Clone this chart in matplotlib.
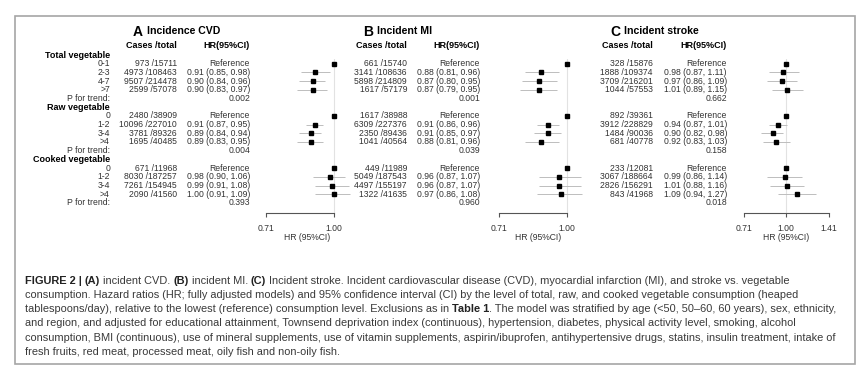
import matplotlib
matplotlib.use("Agg")
import matplotlib.pyplot as plt
import numpy as np
from matplotlib.patches import Rectangle

plt.rcParams['font.family'] = ['Liberation Sans', 'DejaVu Sans']

# ---------------- data ----------------
groups = ["Total vegetable", "Raw vegetable", "Cooked vegetable"]
levels = [["0-1", "2-3", "4-7", ">7"],
          ["0", "1-2", "3-4", ">4"],
          ["0", "1-2", "3-4", ">4"]]

cvd_cases = [["973 /15711", "4973 /108463", "9507 /214478", "2599 /57078"],
             ["2480 /38909", "10096 /227010", "3781 /89326", "1695 /40485"],
             ["671 /11968", "8030 /187257", "7261 /154945", "2090 /41560"]]
cvd_hr = [[1.00, 0.91, 0.90, 0.90], [1.00, 0.91, 0.89, 0.89], [1.00, 0.98, 0.99, 1.00]]
cvd_lo = [[np.nan, 0.85, 0.84, 0.83], [np.nan, 0.87, 0.84, 0.83], [np.nan, 0.90, 0.91, 0.91]]
cvd_hi = [[np.nan, 0.98, 0.96, 0.97], [np.nan, 0.95, 0.94, 0.95], [np.nan, 1.06, 1.08, 1.09]]
cvd_p = ["0.002", "0.004", "0.393"]

mi_cases = [["661 /15740", "3141 /108636", "5898 /214809", "1617 /57179"],
            ["1617 /38988", "6309 /227376", "2350 /89436", "1041 /40564"],
            ["449 /11989", "5049 /187543", "4497 /155197", "1322 /41635"]]
mi_hr = [[1.00, 0.88, 0.87, 0.87], [1.00, 0.91, 0.91, 0.88], [1.00, 0.96, 0.96, 0.97]]
mi_lo = [[np.nan, 0.81, 0.80, 0.79], [np.nan, 0.86, 0.85, 0.81], [np.nan, 0.87, 0.87, 0.86]]
mi_hi = [[np.nan, 0.96, 0.95, 0.95], [np.nan, 0.96, 0.97, 0.96], [np.nan, 1.07, 1.07, 1.08]]
mi_p = ["0.001", "0.039", "0.960"]

st_cases = [["328 /15876", "1888 /109374", "3709 /216201", "1044 /57553"],
            ["892 /39361", "3912 /228829", "1484 /90036", "681 /40778"],
            ["233 /12081", "3067 /188664", "2826 /156291", "843 /41968"]]
st_hr = [[1.00, 0.98, 0.97, 1.01], [1.00, 0.94, 0.90, 0.92], [1.00, 0.99, 1.01, 1.09]]
st_lo = [[np.nan, 0.87, 0.86, 0.89], [np.nan, 0.87, 0.82, 0.83], [np.nan, 0.86, 0.88, 0.94]]
st_hi = [[np.nan, 1.11, 1.09, 1.15], [np.nan, 1.01, 0.98, 1.03], [np.nan, 1.14, 1.16, 1.27]]
st_p = ["0.662", "0.158", "0.018"]

panel_letters = ["A", "B", "C"]
panel_titles = ["Incidence CVD", "Incident MI", "Incident stroke"]
panel_ticks = [[0.71, 1.00], [0.71, 1.00], [0.71, 1.00, 1.41]]
tick_labels = [["0.71", "1.00"], ["0.71", "1.00"], ["0.71", "1.00", "1.41"]]

caption = [
    [("FIGURE 2 | ", True), ("(A)", True), (" incident CVD. ", False), ("(B)", True),
     (" incident MI. ", False), ("(C)", True),
     (" Incident stroke. Incident cardiovascular disease (CVD), myocardial infarction (MI), and stroke vs. vegetable", False)],
    [("consumption. Hazard ratios (HR; fully adjusted models) and 95% confidence interval (CI) by the level of total, raw, and cooked vegetable consumption (heaped", False)],
    [("tablespoons/day), relative to the lowest (reference) consumption level. Exclusions as in ", False),
     ("Table 1", True), (". The model was stratified by age (<50, 50\u201360, 60 years), sex, ethnicity,", False)],
    [("and region, and adjusted for educational attainment, Townsend deprivation index (continuous), hypertension, diabetes, physical activity level, smoking, alcohol", False)],
    [("consumption, BMI (continuous), use of mineral supplements, use of vitamin supplements, aspirin/ibuprofen, antihypertensive drugs, statins, insulin treatment, intake of", False)],
    [("fresh fruits, red meat, processed meat, oily fish and non-oily fish.", False)],
]

panels = [
    dict(cases=cvd_cases, hr=cvd_hr, lo=cvd_lo, hi=cvd_hi, p=cvd_p),
    dict(cases=mi_cases, hr=mi_hr, lo=mi_lo, hi=mi_hi, p=mi_p),
    dict(cases=st_cases, hr=st_hr, lo=st_lo, hi=st_hi, p=st_p),
]

# ---------------- layout ----------------
W, H = 865, 376
DPI = 100
fig = plt.figure(figsize=(W / DPI, H / DPI), dpi=DPI)
renderer = fig.canvas.get_renderer()


def fx(x):
    return x / W


def fy(y):
    return 1 - y / H


ROW0 = 55.0
DY = 8.7
AXIS_Y = 212.5
TXT = '#333333'
FS = 6.2

label_right = 110
layout = [
    dict(cases_right=177, hr_right=250, title_x=133, one=333.5, scale=197, ax_l=255, ax_r=358, xlab=307),
    dict(cases_right=407, hr_right=480, title_x=363, one=567.0, scale=200, ax_l=488, ax_r=592, xlab=538),
    dict(cases_right=653, hr_right=727, title_x=610, one=786.0, scale=124, ax_l=735, ax_r=840, xlab=786),
]


def measure(s, bold, size):
    t = fig.text(0, 0, "|" + s + "|", fontsize=size, fontweight='bold' if bold else 'normal')
    w1 = t.get_window_extent(renderer).width
    t.remove()
    t = fig.text(0, 0, "||", fontsize=size, fontweight='bold' if bold else 'normal')
    w0 = t.get_window_extent(renderer).width
    t.remove()
    return w1 - w0


def row_y(r):
    return ROW0 + r * DY


# row labels
r = 0
for gi, g in enumerate(groups):
    fig.text(fx(label_right), fy(row_y(r)), g, ha='right', va='center', fontsize=FS + 0.3,
             fontweight='bold', color='black')
    for li, lev in enumerate(levels[gi]):
        fig.text(fx(label_right), fy(row_y(r + 1 + li)), lev, ha='right', va='center',
                 fontsize=FS, color=TXT)
    fig.text(fx(label_right), fy(row_y(r + 5)), "P for trend:", ha='right', va='center',
             fontsize=FS, color=TXT)
    r += 6

for pi, (pd_, lay) in enumerate(zip(panels, layout)):
    # title
    tA = fig.text(fx(lay['title_x']), fy(31.5), panel_letters[pi], ha='left', va='center',
                  fontsize=10, fontweight='bold', color='black')
    wA = tA.get_window_extent(renderer).width
    fig.text(fx(lay['title_x'] + wA + 4), fy(31.5), panel_titles[pi], ha='left', va='center',
             fontsize=7.6, fontweight='bold', color='black')
    # headers
    fig.text(fx(lay['cases_right']), fy(45), "Cases /total", ha='right', va='center',
             fontsize=FS + 0.3, fontweight='bold', color='black')
    fig.text(fx(lay['hr_right']), fy(45), "HR(95%CI)", ha='right', va='center',
             fontsize=FS + 0.3, fontweight='bold', color='black')

    # forest axes
    top_px = ROW0 + 0.45 * DY
    ax = fig.add_axes([fx(lay['ax_l']), fy(AXIS_Y), (lay['ax_r'] - lay['ax_l']) / W,
                       (AXIS_Y - top_px) / H])
    ax.set_xscale('log')
    lo_lim = np.exp(-(lay['one'] - lay['ax_l']) / lay['scale'])
    hi_lim = np.exp((lay['ax_r'] - lay['one']) / lay['scale'])
    ax.set_xlim(lo_lim, hi_lim)
    ax.set_ylim((AXIS_Y - ROW0) / DY, (top_px - ROW0) / DY)
    ax.patch.set_alpha(0)
    for s in ['top', 'left', 'right']:
        ax.spines[s].set_visible(False)
    ax.spines['bottom'].set_bounds(panel_ticks[pi][0], panel_ticks[pi][-1])
    ax.spines['bottom'].set_color('#555555')
    ax.spines['bottom'].set_linewidth(0.8)
    ax.set_yticks([])
    ax.xaxis.set_minor_locator(matplotlib.ticker.NullLocator())
    ax.set_xticks(panel_ticks[pi])
    ax.set_xticklabels(tick_labels[pi])
    ax.tick_params(axis='x', direction='out', length=3, width=0.8, color='#555555',
                   labelsize=FS, labelcolor=TXT, pad=5)
    ax.axvline(1.0, color='#e2e2e2', lw=0.8, zorder=0)

    r = 0
    for gi in range(3):
        for li in range(4):
            rr = r + 1 + li
            y = row_y(rr)
            fig.text(fx(lay['cases_right']), fy(y), pd_['cases'][gi][li], ha='right', va='center',
                     fontsize=FS, color=TXT)
            hr = pd_['hr'][gi][li]
            lo = pd_['lo'][gi][li]
            hi = pd_['hi'][gi][li]
            if np.isnan(lo):
                s = "Reference"
            else:
                s = f"{hr:.2f} ({lo:.2f}, {hi:.2f})"
                ax.plot([lo, hi], [rr, rr], color='#bdbdbd', lw=0.7, zorder=1, solid_capstyle='butt')
            fig.text(fx(lay['hr_right']), fy(y), s, ha='right', va='center', fontsize=FS, color=TXT)
            ax.plot([hr], [rr], marker='s', ms=2.4, color='black', mec='black', zorder=3, ls='none')
        fig.text(fx(lay['hr_right']), fy(row_y(r + 5)), pd_['p'][gi], ha='right', va='center',
                 fontsize=FS, color=TXT)
        r += 6
    fig.text(fx(lay['xlab']), fy(237.5), "HR (95%CI)", ha='center', va='center', fontsize=FS,
             color=TXT)

# caption
CAP_X = 25
CAP_Y0 = 280.5
CAP_DY = 14.3
base = 7.0
w_line1 = sum(measure(s, b, base) for s, b in caption[0])
cap_fs = base * 765.0 / w_line1
for li, segs in enumerate(caption):
    x = CAP_X
    y = CAP_Y0 + li * CAP_DY
    for s, b in segs:
        fig.text(fx(x), fy(y), s, ha='left', va='center', fontsize=cap_fs,
                 fontweight='bold' if b else 'normal', color='#222222' if b else '#3a3a3a')
        x += measure(s, b, cap_fs)

# frame
fig.patches.append(Rectangle((fx(15), fy(364)), (855 - 15) / W, (364 - 16) / H,
                             transform=fig.transFigure, fill=False, edgecolor='#a6a6a6', lw=1.2))

fig.savefig("out.png", dpi=DPI)
